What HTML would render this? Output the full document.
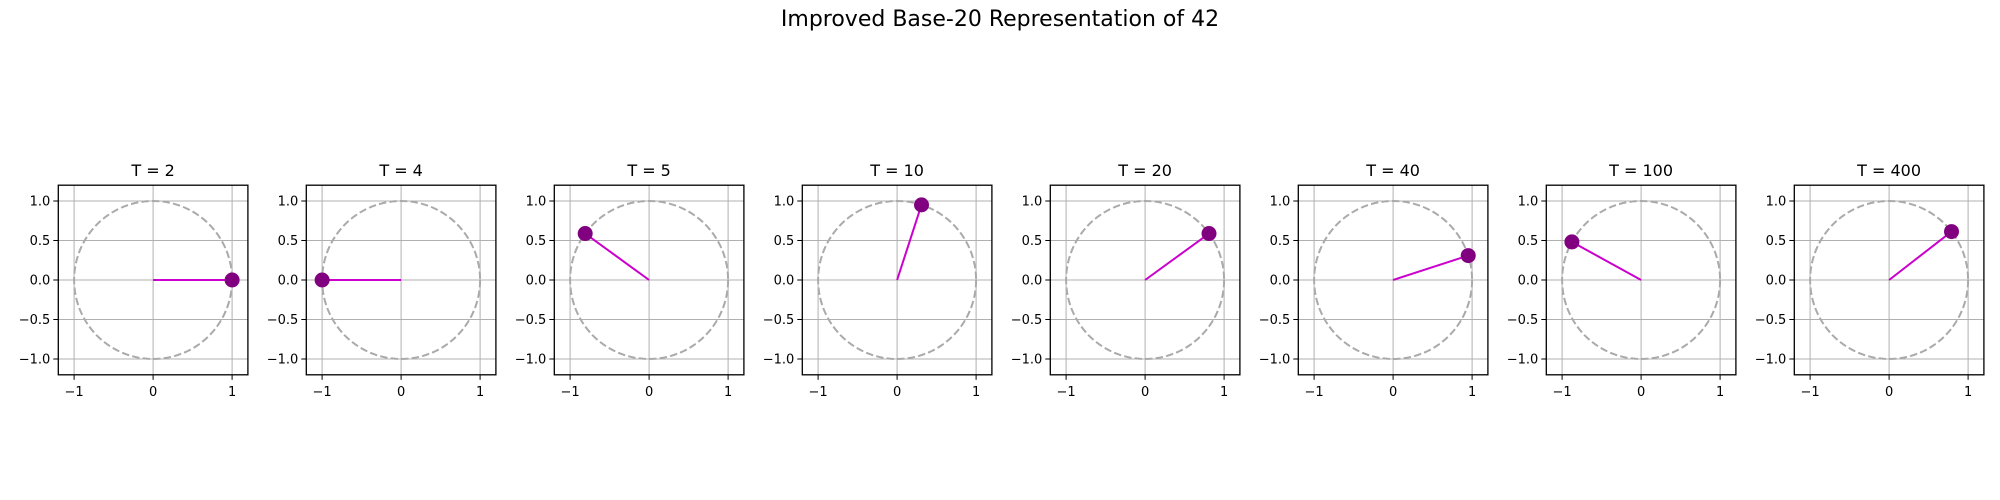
<!DOCTYPE html>
<html><head><meta charset="utf-8"><style>
body{margin:0;background:#fff}
svg{display:block}
text{font-family:"DejaVu Sans","Liberation Sans",sans-serif}
</style></head><body>
<svg id="fig" width="2000" height="500" viewBox="0 0 2000 500" xmlns="http://www.w3.org/2000/svg">
<rect width="2000" height="500" fill="#fff"/>
<text x="1000" y="26" text-anchor="middle" font-size="22">Improved Base-20 Representation of 42</text>
</svg>
<script>
const periods = [2, 4, 5, 10, 20, 40, 100, 400];
const pointX = [1.0, -1.0, -0.809, 0.309, 0.809, 0.951, -0.876, 0.790];
const pointY = [0.0, 0.0, 0.588, 0.951, 0.588, 0.309, 0.482, 0.613];
const ticks = [-1, -0.5, 0, 0.5, 1];
const yTickLabels = ["−1.0", "−0.5", "0.0", "0.5", "1.0"];
const xTickVals = [-1, 0, 1];
const xTickLabels = ["−1", "0", "1"];

const NS = "http://www.w3.org/2000/svg";
const svg = document.getElementById('fig');
function mk(tag, attrs, parent){const e=document.createElementNS(NS,tag);for(const k in attrs)e.setAttribute(k,attrs[k]);(parent||svg).appendChild(e);return e;}
const scale = 79, left0 = 58.3, step = 248, top0 = 185.2, size = 189.6;
periods.forEach((T, i) => {
  const L = left0 + i*step;
  const cx = L + size/2, cy = top0 + size/2;
  const sx = v => cx + v*scale, sy = v => cy - v*scale;
  const g = mk('g', {});
  
  
  // grid
  xTickVals.forEach(v => { const l = mk('line',{x1:sx(v),x2:sx(v),y1:top0,y2:top0+size,stroke:'#b0b0b0','stroke-width':1},g);
      });
  ticks.forEach(v => { const l = mk('line',{x1:L,x2:L+size,y1:sy(v),y2:sy(v),stroke:'#b0b0b0','stroke-width':1},g);
      });
  const c = mk('circle',{cx:cx,cy:cy,r:scale,fill:'none',stroke:'#aaaaaa','stroke-width':2,'stroke-dasharray':'7.4,3.2'},g);
   
  const ln = mk('line',{x1:sx(0),y1:sy(0),x2:sx(pointX[i]),y2:sy(pointY[i]),stroke:'#cc00cc','stroke-width':2},g);
   
  const pt = mk('circle',{cx:sx(pointX[i]),cy:sy(pointY[i]),r:7.5,fill:'#800080'},g);
   
  const fr = mk('rect',{x:L,y:top0,width:size,height:size,fill:'none',stroke:'#000','stroke-width':1.3},g);
   
  ticks.forEach((v, j) => {
    mk('line',{x1:L-5,x2:L,y1:sy(v),y2:sy(v),stroke:'#000','stroke-width':1},g);
    const t = mk('text',{x:L-8,y:sy(v)+4.5,'text-anchor':'end','font-size':13},g);
    t.textContent = yTickLabels[j];
     
  });
  xTickVals.forEach((v, j) => {
    mk('line',{x1:sx(v),x2:sx(v),y1:top0+size,y2:top0+size+5,stroke:'#000','stroke-width':1},g);
    const t = mk('text',{x:sx(v),y:top0+size+21,'text-anchor':'middle','font-size':13},g);
    t.textContent = xTickLabels[j];
     
  });
  const tt = mk('text',{x:cx,y:top0-9,'text-anchor':'middle','font-size':16},g);
  tt.textContent = 'T = ' + T;
   
});
</script>
</body></html>
